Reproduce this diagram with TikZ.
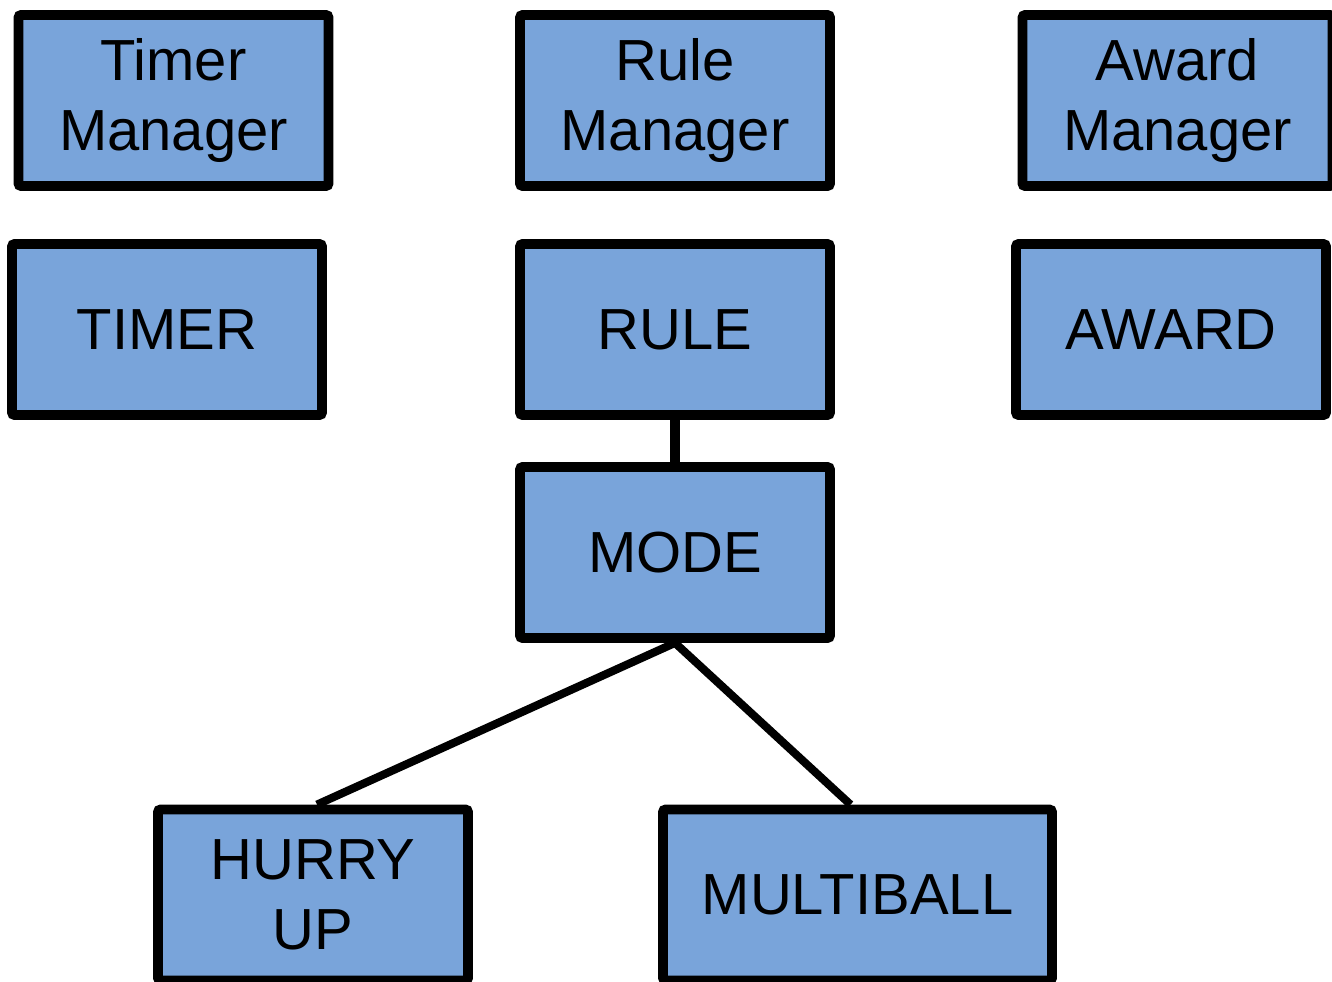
\documentclass[tikz,border=0pt]{standalone}
\usepackage{fontspec}
\setmainfont{Liberation Sans}
\definecolor{boxblue}{RGB}{121,164,218}

\begin{document}
\begin{tikzpicture}[x=0.02cm, y=-0.02cm,
    box/.style={draw, fill=boxblue, line width=5.6pt, rounded corners=1.5pt,
        minimum width=6.2cm, minimum height=3.42cm, align=center, inner sep=0pt,
        font=\fontsize{33}{39.5}\selectfont},
    link/.style={line width=4.6pt}]
    \clip (0,0) rectangle (1332,981);
    % managers
    \node (timermgr) at (173.5,100.5) [box] {Timer\\Manager};
    \node (rulemgr) at (675,100.5) [box] {Rule\\Manager};
    \node (awardmgr) at (1177.5,100.5) [box] {Award\\Manager};
    % objects
    \node (timer) at (167,329.5) [box] {TIMER};
    \node (rule) at (675,329.5) [box] {RULE};
    \node (award) at (1171,329.5) [box] {AWARD};
    \node (mode) at (675,552.5) [box] {MODE};
    \node (hurry) at (313,895) [box] {HURRY\\UP};
    \node (multi) at (857.5,895) [box, minimum width=7.78cm] {MULTIBALL};
    % links
    \draw [link, line width=6pt] (rule.south) -- (mode.north);
    \draw [link] (mode.south) -- ([xshift=0.08cm]hurry.north);
    \draw [link] (mode.south) -- ([xshift=-0.14cm]multi.north);
\end{tikzpicture}
\end{document}
